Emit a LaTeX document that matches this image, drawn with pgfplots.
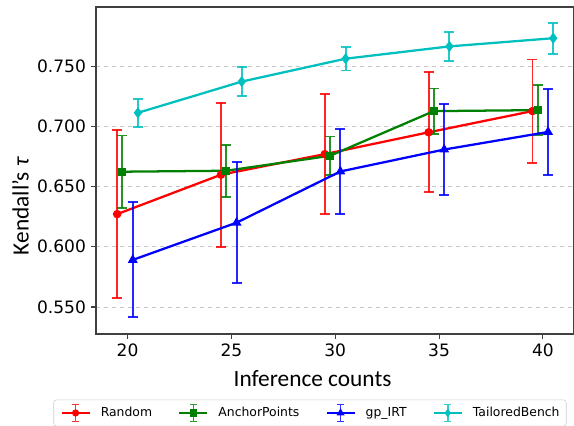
\documentclass[border=0pt]{standalone}
\usepackage{fontspec}
\setmainfont{DejaVu Sans}
\newfontfamily\labfont{Carlito}
\usepackage{pgfplots}
\pgfplotsset{compat=1.18}
\definecolor{cR}{rgb}{1,0,0}
\definecolor{cG}{rgb}{0,0.5,0}
\definecolor{cB}{rgb}{0,0,1}
\definecolor{cC}{rgb}{0,0.75,0.75}
\begin{document}
\begin{tikzpicture}[x=0.75pt,y=0.75pt]
\path[use as bounding box] (-96,-91) rectangle (478,334);
\begin{axis}[
  at={(0,0)}, anchor=south west,
  scale only axis, width=358.5pt, height=245.25pt,
  xmin=18.48, xmax=41.5, ymin=0.5276, ymax=0.799,
  xtick={20,25,30,35,40},
  ytick={0.55,0.6,0.65,0.7,0.75},
  yticklabel style={/pgf/number format/.cd, fixed, fixed zerofill, precision=3},
  /pgf/number format/assume math mode=true,
  tick label style={font=\fontsize{12.8}{15}\selectfont},
  label style={font=\labfont\fontsize{17.5}{20}\selectfont, inner sep=0pt},
  xlabel={Inference counts},
  ylabel={Kendall’s {\itshape τ}},
  xlabel style={at={(axis description cs:0.453,0)}, anchor=north, yshift=-27pt},
  ylabel style={at={(axis description cs:0,0.39)}, anchor=north, yshift=63pt},
  ymajorgrids, major grid style={dashed, gray!45, line width=0.6pt},
  axis line style={black!75, line width=0.8pt},
  tick style={black!75, line width=0.8pt},
  tick align=outside, major tick length=4pt,
  xtick pos=bottom, ytick pos=left,
  legend columns=4,
  legend style={at={(axis description cs:0.4477,-0.2415)}, anchor=center,
    font=\fontsize{9.3}{11}\selectfont, draw=black!20, rounded corners=2pt,
    inner xsep=5pt, inner ysep=3pt,
    nodes={inner xsep=0pt, inner ysep=2pt},
    /tikz/every odd column/.append style={column sep=7.5pt},
    /tikz/every even column/.append style={column sep=19.5pt}},
  legend cell align=left,
  legend image code/.code={
    \draw[#1,mark=none] (0cm,0cm) -- (0.74cm,0cm);
    \draw[#1,mark=none,line width=1.1pt,opacity=0.8] (0.37cm,-0.22cm) -- (0.37cm,0.22cm)
      (0.28cm,0.22cm) -- (0.46cm,0.22cm) (0.28cm,-0.22cm) -- (0.46cm,-0.22cm);
    \draw[#1,mark size=1.8pt] plot coordinates {(0.37cm,0cm)};
  },
  every axis plot/.append style={line width=1.7pt},
  error bars/y dir=both, error bars/y explicit,
  error bars/error bar style={line width=1.4pt, opacity=0.85},
  error bars/error mark options={rotate=90, mark size=3.75pt, line width=1.4pt},
]
\addplot[color=cR, mark=*, mark size=2.3pt] coordinates {
  (19.5,0.6271) +- (0,0.0696)
  (24.5,0.6598) +- (0,0.0598)
  (29.5,0.6769) +- (0,0.0498)
  (34.5,0.6950) +- (0,0.0499)
  (39.5,0.7126) +- (0,0.0428)
};
\addlegendentry{Random}
\addplot[color=cG, mark=square*, mark size=2.2pt] coordinates {
  (19.75,0.6623) +- (0,0.0300)
  (24.75,0.6631) +- (0,0.0217)
  (29.75,0.6755) +- (0,0.0160)
  (34.75,0.7126) +- (0,0.0188)
  (39.75,0.7134) +- (0,0.0207)
};
\addlegendentry{AnchorPoints}
\addplot[color=cB, mark=triangle*, mark size=2.6pt] coordinates {
  (20.25,0.5891) +- (0,0.0477)
  (25.25,0.6200) +- (0,0.0500)
  (30.25,0.6625) +- (0,0.0350)
  (35.25,0.6807) +- (0,0.0380)
  (40.25,0.6953) +- (0,0.0357)
};
\addlegendentry{gp\_IRT}
\addplot[color=cC, mark=diamond*, mark size=2.8pt] coordinates {
  (20.5,0.7112) +- (0,0.0117)
  (25.5,0.7371) +- (0,0.0120)
  (30.5,0.7561) +- (0,0.0098)
  (35.5,0.7663) +- (0,0.0120)
  (40.5,0.7731) +- (0,0.0128)
};
\addlegendentry{TailoredBench}
\end{axis}
\end{tikzpicture}
\end{document}
